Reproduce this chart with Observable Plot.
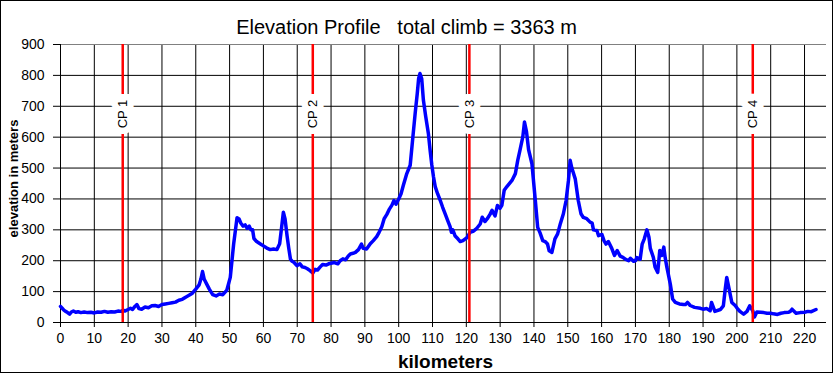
<!DOCTYPE html>
<html>
<head>
<meta charset="utf-8">
<script src="https://cdn.jsdelivr.net/npm/d3@7"></script>
<script src="https://cdn.jsdelivr.net/npm/@observablehq/plot@0.6"></script>
<style>
  html, body { margin: 0; padding: 0; background: #fff; }
  #chart svg { display: block; outline: 1px solid #000; outline-offset: -1px; white-space: pre; }
</style>
</head>
<body>
<div id="chart"></div>
<script>
const titleText = "Elevation Profile   total climb = 3363 m";
const xLabel = "kilometers";
const yLabel = "elevation in meters";

const km = [0,0.5,1,1.5,2,2.7,3.2,3.8,4.5,5.2,6,7,8,9,10,11,12,13,14,15,16,17,18,18.5,19,20,20.7,21.3,22,22.6,23.2,24,25,26,27,28,29,30,31,32,33,34,35,36,37,38,39,40,41,41.5,42,42.5,43.2,44,45,46,47,48,49.2,50.2,51.2,52.2,52.8,53.3,54,54.6,55.2,55.8,56.3,56.8,57.2,58,59,60,61,62,63,64,64.8,65.4,65.9,66.4,67,67.5,68,68.5,69,69.9,70.8,71.5,72.3,73,73.8,74.6,75.3,76,76.8,77.5,78.5,79.3,80,81,82,82.7,83.5,84.3,85,85.7,86.5,87.2,88.1,89,89.5,90.5,91.6,92.5,93.5,94.2,95,95.7,96.5,97.3,98,98.6,99.2,100,100.7,101.4,102.4,103.4,104.2,104.9,105.5,105.9,106.3,106.8,107.3,108,108.8,109.3,109.8,110.3,110.8,111.5,112.3,113,113.8,114.5,115.2,115.6,116,116.7,117.5,118.2,119,120.2,121.1,122,123.1,124.1,124.7,125.5,126.2,127,127.6,128.5,129.2,130,130.5,131.2,132,133.5,134.5,135.2,135.9,136.7,137.2,137.8,138.4,139.4,140.4,141.1,141.8,142.6,143.3,144,144.5,145.3,146.2,147,147.8,148.7,149.5,150.2,150.7,151.2,152.2,153.1,153.9,154.6,155.6,156.6,157.2,157.6,158.6,159.1,160.1,160.7,161.3,162,163,163.8,164.6,165.5,166.3,167,168,168.5,169.5,170,170.4,171.4,172,172.6,173.4,174,174.4,175.3,175.8,176.6,177.2,177.8,178.4,178.8,179.3,180.3,181,181.8,183,184.2,184.8,185.4,186.2,187.5,189.2,190,191.1,192.1,192.5,193.5,195.1,196,196.5,197,197.8,198.5,199.5,200.3,201,202,203,203.8,204.7,205.2,205.9,207,208,208.9,210,210.8,212,213,214,215.3,215.8,216.3,217.5,218.7,220,221,222,223.4];
const elevation = [52,46,40,36,33,27,34,37,33,35,32,34,32,33,31,34,33,36,33,35,34,37,36,40,37,42,46,42,52,58,45,43,50,48,54,55,52,58,60,62,64,66,72,75,82,88,95,108,122,140,165,140,125,108,90,86,92,90,105,146,254,339,335,322,312,316,305,312,300,300,272,262,255,248,241,236,238,236,255,310,357,335,280,240,205,198,195,184,190,180,178,174,168,160,172,170,180,188,186,190,192,194,190,200,206,203,214,222,224,227,236,254,240,238,255,265,278,292,310,336,350,368,380,395,383,400,417,445,482,509,601,680,742,790,806,790,720,666,610,557,510,471,440,417,395,373,350,330,310,292,300,280,271,262,265,275,292,295,305,319,341,327,336,350,363,345,379,370,379,428,440,460,482,525,560,601,649,617,560,514,395,308,290,265,262,254,232,227,271,287,320,352,395,460,525,500,465,395,352,340,336,325,322,300,298,281,285,265,254,262,240,217,233,215,211,205,200,208,198,200,210,205,254,270,300,276,240,211,180,162,233,217,244,210,179,125,76,65,60,58,58,65,55,49,46,43,45,38,65,36,42,54,103,146,103,65,55,43,35,27,36,54,38,18,34,33,32,30,30,28,26,30,32,33,36,43,30,32,33,36,35,42,54];

const cpNames = ["CP 1", "CP 2", "CP 3", "CP 4"];
const cpKm = [18.4, 74.6, 120.9, 204.7];
const cpLabelElev = 675;

const xTicks = d3.range(0, 221, 10);
const yTicks = d3.range(0, 901, 100);

const profile = km.map((k, i) => ({km: k, elev: elevation[i]}));
const cps = cpNames.map((n, i) => ({name: n, km: cpKm[i], elev: cpLabelElev}));

const chart = Plot.plot({
  width: 833,
  height: 373,
  marginLeft: 60,
  marginRight: 7,
  marginTop: 44,
  marginBottom: 51,
  style: {fontFamily: "'Liberation Sans', Arial, sans-serif", fontSize: "14px", color: "#000", background: "#fff"},
  x: {domain: [0, 226.5], ticks: xTicks},
  y: {domain: [0, 900], ticks: yTicks},
  marks: [
    Plot.gridX(xTicks, {stroke: "#000", strokeOpacity: 1, strokeWidth: 1}),
    Plot.gridY(yTicks.filter(d => d < 900), {stroke: "#000", strokeOpacity: 1, strokeWidth: 1}),
    Plot.ruleY([900], {stroke: "#808080", strokeWidth: 1}),
    Plot.axisX({ticks: xTicks, tickSize: 5, tickPadding: 6, fontSize: 14, label: null, style: {letterSpacing: "0.4px"}}),
    Plot.axisY({ticks: yTicks, tickSize: 7, tickPadding: 9, fontSize: 14, label: null, style: {letterSpacing: "0.4px"}}),
    Plot.ruleY([0], {stroke: "#000", strokeWidth: 1}),
    Plot.ruleX([0], {stroke: "#000", strokeWidth: 1}),
    Plot.line(profile, {x: "km", y: "elev", stroke: "#0000ff", strokeWidth: 3.5, curve: "linear"}),
    Plot.ruleX(cps, {x: "km", stroke: "#ff0000", strokeWidth: 2.5}),
    Plot.text(cps, {x: "km", y: "elev", text: "name", rotate: -90, fontSize: 13, fill: "#000", stroke: "#fff", strokeWidth: 13, strokeLinejoin: "miter"}),
    Plot.text([titleText], {frameAnchor: "top", textAnchor: "middle", lineAnchor: "middle", text: d => d, dx: -37, dy: -17, fontSize: 20, fill: "#000", style: {letterSpacing: "0.4px"}}),
    Plot.text([yLabel], {frameAnchor: "left", textAnchor: "middle", lineAnchor: "middle", text: d => d, rotate: -90, dx: -46.5, dy: -5, fontSize: 13, fontWeight: "bold", fill: "#000", style: {letterSpacing: "0.8px"}}),
    Plot.text([xLabel], {frameAnchor: "bottom", textAnchor: "middle", lineAnchor: "middle", text: d => d, dx: 2, dy: 39, fontSize: 19, fontWeight: "bold", fill: "#000"})
  ]
});
document.getElementById("chart").appendChild(chart);
</script>
</body>
</html>
